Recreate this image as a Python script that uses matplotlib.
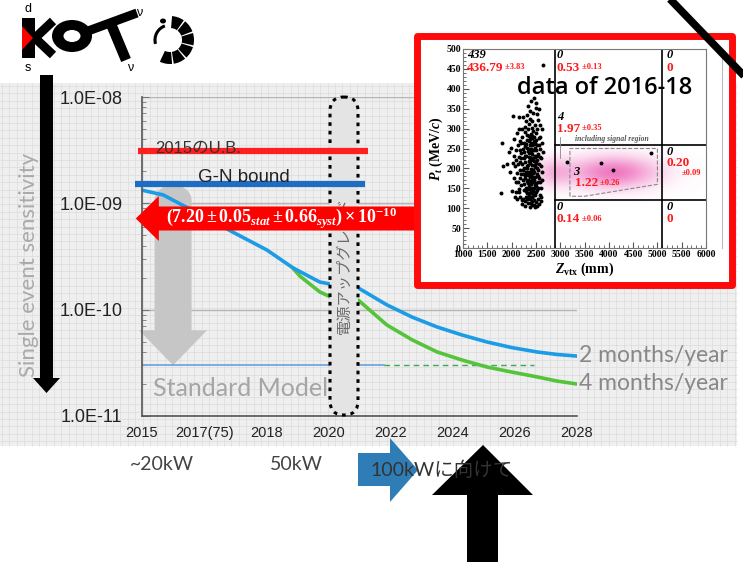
import numpy as np
import matplotlib
matplotlib.use("Agg")
import matplotlib.pyplot as plt
from matplotlib.patches import Rectangle, Polygon, FancyBboxPatch, Ellipse, Wedge, Arc
from matplotlib.ticker import MultipleLocator

plt.rcParams['font.family'] = ['Liberation Sans', 'Noto Sans CJK JP', 'DejaVu Sans']
plt.rcParams['mathtext.fontset'] = 'custom'
plt.rcParams['mathtext.rm'] = 'Liberation Serif:bold'
plt.rcParams['mathtext.it'] = 'Liberation Serif:italic:bold'
plt.rcParams['mathtext.bf'] = 'Liberation Serif:bold'

W, H = 743, 562

# ---- sensitivity projection ----
year_labels = ['2015', '2017(75)', '2018', '2020', '2022', '2024', '2026', '2028']
ytick_vals = [1e-11, 1e-10, 1e-9, 1e-8]
ytick_labels = ['1.0E-11', '1.0E-10', '1.0E-09', '1.0E-08']

# 2 months/year
blue_x = [0.0, 0.34, 0.93, 1.46, 2.01, 2.43, 2.86, 3.03, 3.48, 3.94, 4.35, 4.75, 5.15, 5.55, 5.95, 6.36, 6.68, 7.0]
blue_ses = [1.33e-9, 1.20e-9, 7.9e-10, 5.37e-10, 3.64e-10, 2.47e-10, 1.82e-10, 1.74e-10, 1.60e-10,
            1.11e-10, 8.5e-11, 6.87e-11, 5.78e-11, 4.97e-11, 4.4e-11, 4.0e-11, 3.79e-11, 3.66e-11]
# 4 months/year
green_x = [2.43, 2.54, 2.86, 3.03, 3.48, 3.94, 4.35, 4.75, 5.15, 5.55, 5.95, 6.36, 6.68, 7.0]
green_ses = [2.45e-10, 2.07e-10, 1.47e-10, 1.32e-10, 1.23e-10, 7.18e-11, 5.19e-11, 4.0e-11,
             3.36e-11, 2.89e-11, 2.59e-11, 2.33e-11, 2.13e-11, 2.0e-11]

ub_2015 = 3.1e-9
gn_bound = 1.52e-9
sm_ses = 3e-11
ses_2016_18 = 7.20e-10

# ---- 2016-18 data: Pt vs Zvtx ----
events = [
    (2270, 106), (2330, 112), (2380, 104), (2420, 118), (2460, 109), (2500, 116), (2540, 123),
    (2300, 127), (2410, 129), (2470, 121), (2560, 110), (2240, 124), (2390, 114), (2520, 105),
    (2350, 131), (2440, 135), (2285, 118), (2580, 133), (2180, 128), (2120, 122), (2070, 127),
    (1790, 137), (2320, 138), (2380, 122), (2480, 103), (2210, 110), (2430, 107),
    (2250, 145), (2300, 152), (2350, 148), (2400, 160), (2450, 143), (2500, 155), (2550, 165),
    (2230, 170), (2280, 175), (2330, 163), (2370, 178), (2420, 150), (2470, 172), (2520, 146),
    (2570, 176), (2200, 158), (2150, 148), (2100, 166), (2050, 175), (2010, 142), (2390, 142),
    (2310, 168), (2440, 166), (2490, 178), (2360, 156), (2260, 160), (2540, 150), (2180, 176),
    (2410, 170), (2345, 139), (2475, 158),
    (2240, 185), (2290, 192), (2340, 183), (2390, 198), (2440, 188), (2490, 204), (2540, 195),
    (2220, 210), (2270, 216), (2320, 205), (2370, 214), (2420, 208), (2470, 218), (2520, 186),
    (2570, 212), (2170, 196), (2120, 188), (2070, 205), (2030, 214), (1970, 192), (1910, 210),
    (2400, 184), (2310, 200), (2450, 197), (2510, 213), (2350, 219), (2250, 202), (2180, 215),
    (1830, 205), (2400, 226), (2460, 190), (2330, 190),
    (2250, 225), (2300, 232), (2350, 228), (2400, 240), (2450, 226), (2500, 245), (2550, 235),
    (2230, 250), (2280, 256), (2330, 244), (2380, 258), (2430, 236), (2480, 252), (2530, 222),
    (2580, 248), (2200, 238), (2150, 228), (2100, 246), (2040, 232), (1990, 252), (1940, 240),
    (2370, 222), (2460, 246), (2310, 252), (2420, 258), (2260, 240), (1800, 263), (2520, 260),
    (2350, 247), (2490, 231),
    (2250, 265), (2310, 272), (2360, 268), (2410, 282), (2460, 270), (2510, 288), (2560, 276),
    (2280, 292), (2340, 298), (2390, 264), (2440, 295), (2490, 265), (2220, 280), (2170, 270),
    (2110, 290), (2050, 275), (2400, 286), (2470, 280), (2320, 285), (2530, 298), (2380, 275),
    (2430, 262),
    (2270, 305), (2350, 312), (2420, 318), (2490, 308), (2550, 322), (2240, 329), (2310, 335),
    (2380, 345), (2450, 340), (2510, 364), (2560, 350), (2400, 370), (2330, 358), (2470, 378),
    (2150, 330), (2430, 302), (2530, 336), (2030, 332), (2500, 352), (2290, 318), (2380, 325),
    (2325, 122), (2375, 138), (2425, 128), (2475, 134), (2345, 172), (2395, 168), (2445, 178),
    (2495, 164), (2335, 208), (2385, 190), (2435, 220), (2485, 228), (2355, 238), (2405, 226),
    (2455, 262), (2505, 272), (2365, 250), (2415, 276), (2295, 262), (2515, 232), (2295, 142),
    (2495, 140), (2525, 202), (2275, 230), (2555, 258), (2415, 196), (2365, 186), (2455, 152),
    (2325, 190), (2405, 250), (2285, 184), (2545, 182), (2425, 245), (2355, 282), (2475, 208),
    (2160, 140), (2190, 185), (2140, 210), (2175, 245), (2200, 265), (2160, 300), (2210, 120),
    (2190, 225), (2230, 195), (2220, 300), (2600, 150), (2620, 190), (2610, 225), (2630, 265),
    (2590, 280), (2600, 118), (2640, 240), (2620, 300), (2585, 165), (2605, 205), (2590, 228),
    (2615, 128), (2630, 172), (2575, 310), (2125, 258), (2135, 165), (2085, 222), (2095, 140),
    (2650, 460),
    (3130, 215), (3840, 214), (4080, 196), (4860, 238),
]
event_z = [e[0] for e in events]
event_pt = [e[1] for e in events]

signal_region = [(3200, 130), (3200, 250), (5000, 250), (5000, 160), (3500, 130)]

# region labels: (z, observed, expected, error, pt of observed, pt of expected)
region_counts = [
    (1080, '439', '436.79', '±3.83', 485, 453),
    (2930, '0', '0.53', '±0.13', 485, 453),
    (5180, '0', '0', '', 485, 453),
    (2930, '4', '1.97', '±0.35', 328, 300),
    (2930, '0', '0.14', '±0.06', 104, 73),
    (5180, '0', '0', '', 104, 73),
]

fig = plt.figure(figsize=(W / 100, H / 100), dpi=100)


def canvas(z):
    a = fig.add_axes([0, 0, 1, 1], zorder=z)
    a.set_xlim(0, W)
    a.set_ylim(H, 0)
    a.axis('off')
    a.patch.set_alpha(0)
    return a


bg = canvas(0)

# grid-paper slide background
bg.add_patch(Rectangle((0, 83), 737, 363, fc='#efefef', ec='none'))
bg.vlines(np.arange(2, 737, 7.4), 83, 446, color='#dcdcdc', lw=0.5)
bg.hlines(np.arange(86, 446, 7.4), 0, 737, color='#dcdcdc', lw=0.5)

# ---- main sensitivity plot ----
ax = fig.add_axes([142 / W, 1 - 416 / H, 435 / W, 319 / H], zorder=1)
ax.patch.set_alpha(0)
ax.set_yscale('log')
ax.set_ylim(1e-11, 1e-8)
ax.set_xlim(0, 7)
ax.set_xticks(range(len(year_labels)))
ax.set_xticklabels(year_labels)
ax.set_yticks(ytick_vals)
ax.set_yticklabels(ytick_labels)
for s in ['top', 'right']:
    ax.spines[s].set_visible(False)
for s in ['left', 'bottom']:
    ax.spines[s].set_color('#555555')
    ax.spines[s].set_linewidth(1.2)
ax.tick_params(axis='x', length=0, pad=7, labelsize=10.5, labelcolor='#222222')
ax.tick_params(axis='y', which='major', direction='in', length=5, pad=14,
               labelsize=13, labelcolor='#222222', color='#777777')
ax.tick_params(axis='y', which='minor', direction='in', length=3, color='#777777')
ax.grid(axis='y', which='major', color='#b5b5b5', lw=1)
ax.set_axisbelow(True)


def to_px(x, y):
    return bg.transData.inverted().transform(ax.transData.transform((x, y)))


# standard model arrow
tx, ty = to_px(0.5, sm_ses)
theta = np.linspace(0, np.pi, 30)
dome = [(tx + 18.5 * np.cos(t), 200 - 15 * np.sin(t)) for t in theta]
arrow_pts = [(tx - 18.5, ty - 35), (tx - 34, ty - 35), (tx, ty), (tx + 34, ty - 35),
             (tx + 18.5, ty - 35)] + dome
ax.add_patch(Polygon(arrow_pts, closed=True, fc='#c6c6c6', ec='none',
                     transform=bg.transData, clip_on=False, zorder=1.5))

ax.plot([0, 3.9], [sm_ses, sm_ses], color='#6fa9dc', lw=1.3, zorder=2)
ax.plot([3.9, 6.3], [sm_ses, sm_ses], color='#3aaa55', lw=1, ls=(0, (4, 3)), zorder=2)

ax.plot(green_x, green_ses, color='#55c43a', lw=2.6, zorder=2)
ax.plot(blue_x, blue_ses, color='#1c9be6', lw=2.6, zorder=2.1)

# power upgrade period
ax.add_patch(FancyBboxPatch((330, 97), 28, 318, boxstyle='round,pad=0,rounding_size=14',
                            fc='#e4e4e4', ec='black', ls=(0, (1.2, 1.6)), lw=2.2,
                            transform=bg.transData, clip_on=False, zorder=3))
ax.text(344, 265, '電源アップグレード', rotation=90, ha='center', va='center',
        family=['Noto Sans CJK JP'], fontsize=11, color='#6a6a6a',
        transform=bg.transData, zorder=4)

ax.plot([-0.06, 3.63], [ub_2015, ub_2015], color='#ff1f1f', lw=4.5, zorder=4,
        clip_on=False, solid_capstyle='butt')
ax.plot([-0.11, 3.59], [gn_bound, gn_bound], color='#1f6dc2', lw=4.5, zorder=4,
        clip_on=False, solid_capstyle='butt')
ax.text(155, 148, '2015のU.B.', family=['Liberation Sans', 'Noto Sans CJK JP'],
        fontsize=12, color='#333333', va='center', transform=bg.transData, zorder=5)
ax.text(198, 177, 'G-N bound', fontsize=13.5, color='#222222', va='center',
        transform=bg.transData, zorder=5)

ax.annotate('', xy=(-0.1, ses_2016_18), xytext=(4.6, ses_2016_18),
            arrowprops=dict(arrowstyle='simple,head_length=1.66,head_width=3.24,tail_width=1.73',
                            mutation_scale=10, fc='#ff0000', ec='none', shrinkA=0, shrinkB=0),
            annotation_clip=False, zorder=5)
ax.text(2.25, ses_2016_18, r'$(7.20 \pm 0.05_{stat} \pm 0.66_{syst}) \times 10^{-10}$',
        color='white', fontsize=13, ha='center', va='center', zorder=6, clip_on=False)

bg.text(153, 388, 'Standard Model', family='Lato', fontsize=18, color='#a5a5a5', va='center')
bg.text(579, 356, '2 months/year', family='Lato', fontsize=16.5, color='#888888', va='center')
bg.text(579, 384, '4 months/year', family='Lato', fontsize=16.5, color='#888888', va='center')
bg.text(29, 265, 'Single event sensitivity', family='Lato', fontsize=16, color='#aaaaaa',
        rotation=90, ha='center', va='center')
bg.text(162, 465, '~20kW', family='Lato', fontsize=14, color='#444444', ha='center', va='center')
bg.text(296, 465, '50kW', family='Lato', fontsize=14, color='#444444', ha='center', va='center')

# ---- red frame with the data plot ----
box = canvas(2)
box.add_patch(Rectangle((416.5, 35.5), 315, 249, fc='white', ec='#ff0a0a', lw=5,
                        joinstyle='round'))
col = np.ones((60, 1, 4))
col[:, 0, :3] = [0.93, 0.35, 0.72]
col[:, 0, 3] = np.linspace(0.85, 0.0, 60) ** 0.9
box.imshow(col, extent=(707, 722, 248, 49), aspect='auto', interpolation='bilinear')
box.plot([722, 722], [49, 248], color='#bbbbbb', lw=0.8)

ins = fig.add_axes([463 / W, 1 - 248 / H, 243 / W, 199 / H], zorder=3)
ins.set_xlim(1000, 6000)
ins.set_ylim(0, 500)
xt = np.arange(1000, 6001, 500)
yt = np.arange(0, 501, 50)
ins.set_xticks(xt)
ins.set_xticklabels([str(v) for v in xt], family='Liberation Serif', fontweight='bold', fontsize=7)
ins.set_yticks(yt)
ins.set_yticklabels([str(v) for v in yt], family='Liberation Serif', fontweight='bold', fontsize=7)
ins.xaxis.set_minor_locator(MultipleLocator(100))
ins.yaxis.set_minor_locator(MultipleLocator(10))
ins.tick_params(which='both', direction='in', pad=1.5, color='#555555')
ins.tick_params(which='major', length=4)
ins.tick_params(which='minor', length=2)
for s in ins.spines.values():
    s.set_color('#777777')
    s.set_linewidth(0.8)
ins.set_ylabel(r'$P_t$ (MeV/$c$)', family='Liberation Serif', fontweight='bold', fontsize=10,
               labelpad=1)
ins.set_xlabel(r'$Z_{\rm vtx}$ (mm)', family='Liberation Serif', fontweight='bold', fontsize=10,
               labelpad=1)

# expected-signal shading
zz, pp = np.meshgrid(np.linspace(1000, 6000, 300), np.linspace(0, 500, 200))
glow = 0.75 * np.exp(-((zz - 4100) / 900) ** 2 - ((pp - 190) / 40) ** 2)
glow += 0.35 * np.exp(-((zz - 2850) / 400) ** 2 - ((pp - 190) / 36) ** 2)
shade = np.zeros(zz.shape + (4,))
shade[..., :3] = [0.92, 0.3, 0.68]
shade[..., 3] = np.clip(glow, 0, 0.85)
ins.imshow(shade, extent=(1000, 6000, 0, 500), origin='lower', aspect='auto', zorder=0.5)

ins.plot([2900, 2900], [0, 500], color='black', lw=1.2, zorder=2)
ins.plot([5100, 5100], [0, 500], color='black', lw=1.2, zorder=2)
ins.plot([2900, 6000], [260, 260], color='black', lw=1.2, zorder=2)
ins.plot([2900, 6000], [120, 120], color='black', lw=1.2, zorder=2)
ins.plot([3000, 3000], [225, 280], color='#888888', lw=0.6, zorder=2)
ins.add_patch(Polygon(signal_region, closed=True, fill=False, ec='#888888', ls='--', lw=0.8,
                      zorder=2))
ins.scatter(event_z, event_pt, s=8, c='black', marker='o', lw=0, zorder=3)

serif = 'Liberation Serif'
for z, n_obs, n_exp, err, y_obs, y_exp in region_counts:
    ins.text(z, y_obs, n_obs, family=serif, style='italic', fontweight='bold', fontsize=9,
             va='center', zorder=4)
    t = ins.text(z, y_exp, n_exp, family=serif, fontweight='bold', fontsize=9.5,
                 color='#ff1a1a', va='center', zorder=4)
    if err:
        ins.annotate(' ' + err, xy=(1, 0.2), xycoords=t, family=serif, fontweight='bold',
                     fontsize=6, color='#ff1a1a', va='bottom', zorder=4)
ins.text(3300, 273, 'including signal region', family=serif, style='italic',
         fontweight='bold', fontsize=5.5, color='#555555', va='center', zorder=4)
ins.text(3260, 192, '3', family=serif, style='italic', fontweight='bold', fontsize=9,
         va='center', zorder=4)
t = ins.text(3300, 163, '1.22', family=serif, fontweight='bold', fontsize=9.5,
             color='#ff1a1a', va='center', zorder=4)
ins.annotate(' ±0.26', xy=(1, 0.2), xycoords=t, family=serif, fontweight='bold',
             fontsize=6, color='#ff1a1a', va='bottom', zorder=4)
ins.text(5180, 242, '0', family=serif, style='italic', fontweight='bold', fontsize=9,
         va='center', zorder=4)
ins.text(5180, 213, '0.20', family=serif, fontweight='bold', fontsize=9.5, color='#ff1a1a',
         va='center', zorder=4)
ins.text(5500, 188, '±0.09', family=serif, fontweight='bold', fontsize=6, color='#ff1a1a',
         va='center', zorder=4)

# ---- overlays ----
top = canvas(4)
top.text(605, 88, 'data of 2016-18', family='Open Sans', fontweight='semibold', fontsize=17,
         ha='center', va='center', color='black')
top.plot([668, 748], [-3, 80], color='black', lw=5.5, solid_capstyle='butt')

# left arrow
top.add_patch(Polygon([(40, 75), (53, 75), (53, 378), (60, 378), (46.5, 393), (33, 378),
                       (40, 378)], closed=True, fc='black', ec='none'))

# 100kW arrow and pointer
top.add_patch(Polygon([(358, 453), (390, 453), (390, 438), (418, 470), (390, 502), (390, 486),
                       (358, 486)], closed=True, fc='#2f7db6', ec='none'))
top.text(370, 470, '100kWに向けて', family=['Lato', 'Noto Sans CJK JP'], fontsize=14,
         color='#333333', va='center')
top.add_patch(Polygon([(467, 562), (467, 495), (432, 495), (483, 445), (533, 495), (498, 495),
                       (498, 562)], closed=True, fc='black', ec='none'))

# KOTO logo
top.add_patch(Rectangle((22, 18), 13, 40, fc='black', ec='none'))
top.add_patch(Polygon([(22, 26), (22, 50), (33, 38)], closed=True, fc='red', ec='none'))
top.plot([35, 53], [38, 21], color='black', lw=6.5, solid_capstyle='butt')
top.plot([35, 53], [38, 55], color='black', lw=6.5, solid_capstyle='butt')
top.add_patch(Ellipse((72, 36), 40, 32, fc='black', ec='none'))
top.add_patch(Ellipse((72, 36), 17, 12, fc='white', ec='none'))
top.plot([88, 137], [31, 13], color='black', lw=6.5, solid_capstyle='butt')
top.plot([111, 126], [24, 60], color='black', lw=7.5, solid_capstyle='butt')
for t1, t2 in [(-85, -55), (-51, -21), (-17, 13), (17, 47), (51, 81), (85, 115)]:
    top.add_patch(Wedge((170, 40), 24, t1, t2, width=12, fc='black', ec='none'))
top.add_patch(Arc((170, 40), 30, 30, theta1=165, theta2=250, color='black', lw=2.2))
top.add_patch(Ellipse((163, 21), 6, 5, fc='black', ec='none'))
top.text(28, 9, 'd', fontsize=9, ha='center', va='center')
top.text(28, 68, 's', fontsize=9, ha='center', va='center')
top.text(139, 13, 'ν', fontsize=9, ha='center', va='center')
top.text(130, 68, 'ν', fontsize=9, ha='center', va='center')

fig.savefig('out.png', dpi=100)
